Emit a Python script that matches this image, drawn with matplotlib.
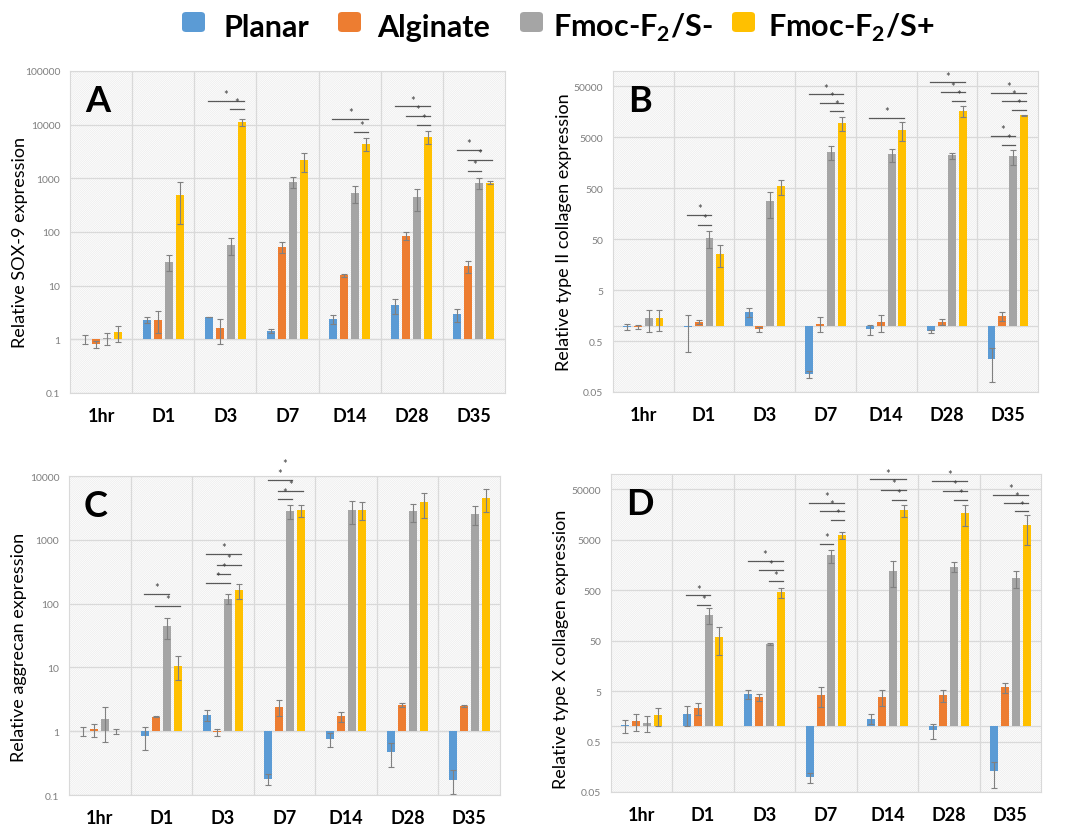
import matplotlib
matplotlib.use("Agg")
import matplotlib.pyplot as plt
from matplotlib.patches import Rectangle, FancyBboxPatch
import numpy as np

plt.rcParams['font.family'] = ['Lato', 'DejaVu Sans']
plt.rcParams['hatch.linewidth'] = 0.5
plt.rcParams['mathtext.fontset'] = 'custom'
plt.rcParams['mathtext.rm'] = 'Lato'
plt.rcParams['mathtext.bf'] = 'Lato:bold'

categories = ['1hr', 'D1', 'D3', 'D7', 'D14', 'D28', 'D35']
series_names = ['Planar', 'Alginate', r'Fmoc-F$_\mathbf{2}$/S-', r'Fmoc-F$_\mathbf{2}$/S+']
colors = ['#5B9BD5', '#ED7D31', '#A5A5A5', '#FFC000']

# ---- Panel A: SOX-9 ----
A_planar = [1.0, 2.3, 2.6, 1.45, 2.4, 4.3, 2.9]
A_alginate = [0.8, 2.3, 1.6, 53, 15.5, 85, 23]
A_sminus = [1.05, 28, 57, 850, 530, 440, 830]
A_splus = [1.35, 490, 11000, 2150, 4400, 6000, 830]
A_planar_sd = [0.2, 0.25, 0.05, 0.12, 0.45, 1.3, 0.8]
A_alginate_sd = [0.12, 1.0, 0.8, 13, 1.0, 15, 6]
A_sminus_sd = [0.28, 9, 20, 190, 190, 190, 190]
A_splus_sd = [0.45, 350, 1600, 850, 1200, 1700, 60]
A_brackets = [(2, 0, 3, 27700), (2, 2, 3, 19400),
              (4, 0, 3, 12900), (4, 2, 3, 7400),
              (5, 0, 3, 22000), (5, 1, 3, 14500), (5, 2, 3, 10000),
              (6, 0, 2, 3400), (6, 1, 3, 2200), (6, 1, 2, 1360)]

# ---- Panel B: type II collagen ----
B_planar = [0.95, 0.95, 1.85, 0.112, 0.85, 0.78, 0.22]
B_alginate = [0.95, 1.2, 0.85, 1.1, 1.2, 1.2, 1.52]
B_sminus = [1.4, 53, 280, 2560, 2300, 2200, 2130]
B_splus = [1.4, 26, 544, 9500, 7000, 16700, 13400]
B_planar_sd = [0.12, 0.65, 0.35, 0.016, 0.2, 0.06, 0.14]
B_alginate_sd = [0.1, 0.1, 0.1, 0.35, 0.45, 0.15, 0.3]
B_sminus_sd = [0.65, 19, 150, 750, 650, 300, 700]
B_splus_sd = [0.6, 12, 180, 2800, 2800, 4200, 300]
B_brackets = [(1, 0, 2, 149), (1, 1, 2, 96),
              (3, 0, 3, 35000), (3, 1, 3, 24000), (3, 2, 3, 16300),
              (4, 0, 3, 11900),
              (5, 0, 3, 60000), (5, 1, 3, 38000), (5, 2, 3, 25900),
              (6, 0, 3, 37000), (6, 1, 3, 25900), (6, 2, 3, 17500),
              (6, 0, 2, 5400), (6, 1, 2, 3500)]

# ---- Panel C: aggrecan ----
C_planar = [1.0, 0.83, 1.8, 0.177, 0.76, 0.47, 0.175]
C_alginate = [1.07, 1.7, 0.97, 2.44, 1.72, 2.6, 2.5]
C_sminus = [1.56, 44, 120, 2800, 2950, 2800, 2550]
C_splus = [1.0, 10.6, 162, 2900, 2950, 3850, 4450]
C_planar_sd = [0.17, 0.33, 0.33, 0.035, 0.19, 0.19, 0.07]
C_alginate_sd = [0.25, 0.03, 0.13, 0.7, 0.3, 0.17, 0.12]
C_sminus_sd = [0.88, 16, 22, 700, 1150, 900, 850]
C_splus_sd = [0.1, 4.3, 42, 650, 900, 1650, 1750]
C_brackets = [(1, 0, 2, 140), (1, 1, 3, 92),
              (2, 0, 3, 609), (2, 1, 3, 405), (2, 1, 2, 292), (2, 0, 2, 211),
              (3, 0, 3, 12600), (3, 0, 2, 8800), (3, 1, 3, 5900), (3, 1, 2, 4380)]

# ---- Panel D: type X collagen ----
D_planar = [1.05, 1.78, 4.43, 0.098, 1.42, 0.83, 0.13]
D_alginate = [1.29, 2.31, 3.8, 4.2, 3.87, 4.2, 5.9]
D_sminus = [1.17, 164, 42.5, 2450, 1220, 1460, 871]
D_splus = [1.68, 60, 454, 6180, 19300, 16800, 9600]
D_planar_sd = [0.3, 0.78, 0.9, 0.021, 0.3, 0.26, 0.07]
D_alginate_sd = [0.48, 0.63, 0.6, 1.8, 1.3, 1.1, 1.4]
D_sminus_sd = [0.4, 58, 1.5, 700, 640, 320, 310]
D_splus_sd = [0.66, 34, 100, 1000, 5000, 7300, 5700]
D_brackets = [(1, 0, 2, 395), (1, 1, 2, 251),
              (2, 0, 3, 1890), (2, 1, 3, 1240), (2, 2, 3, 748),
              (3, 0, 3, 26900), (3, 1, 3, 18400), (3, 2, 3, 12200), (3, 1, 2, 4100),
              (4, 0, 3, 78000), (4, 1, 3, 48600), (4, 2, 3, 30400),
              (5, 0, 3, 73000), (5, 1, 3, 46500), (5, 2, 3, 30400),
              (6, 0, 3, 38700), (6, 1, 3, 26900), (6, 2, 3, 18100)]

A_ticks = [0.1, 1, 10, 100, 1000, 10000, 100000]
A_ticklabels = ['0.1', '1', '10', '100', '1000', '10000', '100000']
B_ticks = [0.05, 0.5, 5, 50, 500, 5000, 50000]
B_ticklabels = ['0.05', '0.5', '5', '50', '500', '5000', '50000']
C_ticks = [0.1, 1, 10, 100, 1000, 10000]
C_ticklabels = ['0.1', '1', '10', '100', '1000', '10000']

W, H = 1070, 828
fig = plt.figure(figsize=(W / 100, H / 100), dpi=100)

panels = [
    dict(letter='A', rect=[0.0654, 0.5242, 0.4065, 0.3889],
         vals=[A_planar, A_alginate, A_sminus, A_splus],
         sds=[A_planar_sd, A_alginate_sd, A_sminus_sd, A_splus_sd],
         brackets=A_brackets, ylim=(0.1, 100000), ticks=A_ticks, ticklabels=A_ticklabels,
         ylabel='Relative SOX-9 expression', ly=0.47),
    dict(letter='B', rect=[0.5729, 0.5254, 0.3972, 0.3877],
         vals=[B_planar, B_alginate, B_sminus, B_splus],
         sds=[B_planar_sd, B_alginate_sd, B_sminus_sd, B_splus_sd],
         brackets=B_brackets, ylim=(0.05, 100000), ticks=B_ticks, ticklabels=B_ticklabels,
         ylabel='Relative type II collagen expression', ly=0.5),
    dict(letter='C', rect=[0.0645, 0.0386, 0.4028, 0.3853],
         vals=[C_planar, C_alginate, C_sminus, C_splus],
         sds=[C_planar_sd, C_alginate_sd, C_sminus_sd, C_splus_sd],
         brackets=C_brackets, ylim=(0.1, 10000), ticks=C_ticks, ticklabels=C_ticklabels,
         ylabel='Relative aggrecan expression', ly=0.467),
    dict(letter='D', rect=[0.571, 0.0423, 0.4019, 0.3841],
         vals=[D_planar, D_alginate, D_sminus, D_splus],
         sds=[D_planar_sd, D_alginate_sd, D_sminus_sd, D_splus_sd],
         brackets=D_brackets, ylim=(0.05, 100000), ticks=B_ticks, ticklabels=B_ticklabels,
         ylabel='Relative type X collagen expression', ly=0.45),
]

spacing = 0.177
offsets = [(-1.5 + k) * spacing for k in range(4)]
bar_w = 0.13
x = np.arange(len(categories))

for p in panels:
    ax = fig.add_axes(p['rect'])
    ax.set_yscale('log')
    ax.set_xlim(-0.5, len(categories) - 0.5)
    ax.set_ylim(*p['ylim'])
    ax.set_axisbelow(True)
    bg = Rectangle((0, 0), 1, 1, transform=ax.transAxes, facecolor='white',
                   edgecolor='#EBEBEB', hatch='/' * 16, linewidth=0, zorder=0)
    ax.add_patch(bg)
    for yt in p['ticks']:
        ax.axhline(yt, color='#D9D9D9', lw=0.9, zorder=0.5)
    ax.axhline(1, color='#D9D9D9', lw=0.9, zorder=0.5)
    for xb in np.arange(0.5, len(categories) - 0.5, 1):
        ax.axvline(xb, color='#D9D9D9', lw=0.9, zorder=0.5)
    for k in range(4):
        v = np.array(p['vals'][k], dtype=float)
        ax.bar(x + offsets[k], v - 1, bottom=1, width=bar_w, color=colors[k],
               yerr=p['sds'][k], zorder=2,
               error_kw=dict(ecolor='#808080', elinewidth=0.8, capsize=2.5, capthick=0.8))
    for (c, i, j, yv) in p['brackets']:
        x1 = c + offsets[i] - 0.01
        x2 = c + offsets[j] + 0.03
        ax.plot([x1, x2], [yv, yv], color='#595959', lw=0.9, zorder=3)
        ax.text((x1 + x2) / 2, yv * 1.03, '*', ha='center', va='bottom',
                fontsize=8, color='#404040', zorder=3)
    ax.set_yticks(p['ticks'])
    ax.set_yticklabels(p['ticklabels'])
    ax.yaxis.set_minor_locator(matplotlib.ticker.NullLocator())
    ax.set_xticks(x)
    ax.set_xticklabels(categories, fontweight='bold', fontsize=13)
    ax.tick_params(axis='y', length=0, labelsize=7.5, labelcolor='#7F7F7F', pad=7)
    ax.tick_params(axis='x', length=0, pad=10)
    for s in ax.spines.values():
        s.set_color('#D9D9D9')
        s.set_linewidth(0.8)
    ax.set_ylabel(p['ylabel'], fontsize=13)
    ax.yaxis.set_label_coords(-0.097, p['ly'])
    ax.text(0.035, 0.96, p['letter'], transform=ax.transAxes, fontsize=26,
            fontweight='bold', va='top', ha='left', zorder=4)

# legend (manually placed, like the original's top legend)
leg_square_x = [182, 338, 520, 732]
leg_text_x = [223, 377, 553, 768]
for k in range(4):
    sq = FancyBboxPatch((leg_square_x[k] / W, 1 - 33 / H), 23 / W, 20 / H,
                        boxstyle='round,pad=0,rounding_size=0.004',
                        transform=fig.transFigure, facecolor=colors[k], edgecolor='none')
    fig.patches.append(sq)
    fig.text(leg_text_x[k] / W, 1 - 37 / H, series_names[k], fontsize=22,
             fontweight='bold', ha='left', va='baseline')

fig.savefig('out.png', dpi=100)
